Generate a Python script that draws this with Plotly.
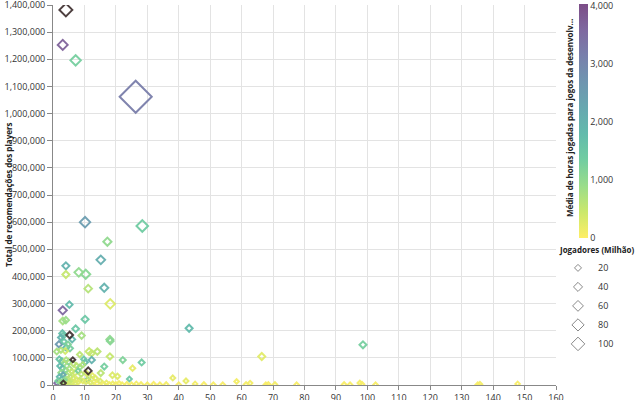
import numpy as np
import plotly.graph_objects as go

# ---------------- data ----------------
# x value (unlabelled axis), total recommendations, mean hours played, players (millions)
x_vals = [
    4.1, 3.1, 7.2, 26.3, 10.2, 28.4, 17.3, 15.2, 4.1, 4.1, 8.2, 10.4, 11.2, 16.3, 18.2,
    3.1, 5.2, 10.2, 3.1, 4.1, 7.2, 43.3, 66.4, 98.6, 5.3,
    3.0, 3.3, 2.5, 6.1, 1.9, 4.2, 5.4, 1.2, 3.5, 4.8, 9.1, 18.1, 18.2, 11.5, 12.3, 14.1,
    18.1, 22.2, 28.2, 12.3, 10.2, 6.3, 16.3, 15.2, 11.2, 18.9, 20.5, 25.3, 24.3, 38.1,
    42.3, 45.2, 58.4, 62.7, 3.9, 2.5, 8.5, 9.8,
    2.0, 2.8, 3.5, 4.2, 5.0, 6.5, 7.5, 8.5, 9.5, 2.2, 3.0, 4.0, 5.2, 6.0, 7.0, 8.0, 9.0,
    10.5, 11.5, 12.5, 13.5, 2.5, 3.2, 4.5, 5.5, 6.5, 7.5, 8.5, 9.5, 10.5, 2.0, 2.8, 3.6,
    4.4, 5.2, 6.0, 7.0, 8.0, 1.2, 3.3, 1.5, 2.4, 4.0, 5.0, 11.0, 12.0, 13.0, 14.0, 15.0,
    16.0, 17.0, 18.0, 19.0, 20.0, 21.0, 22.0, 23.5, 25.0, 26.5, 28.0, 30.0, 32.0, 34.0,
    36.0, 40.0, 48.0, 51.0, 54.0, 61.4, 67.7, 68.5, 70.6, 77.5, 92.6, 94.5, 97.6, 98.3,
    102.6, 135.1, 135.8, 147.8,
]
recommendations = [
    1382000, 1253000, 1196000, 1062000, 600000, 586000, 528000, 461000, 439000, 407000,
    415000, 408000, 355000, 358000, 299000, 275000, 296000, 242000, 236000, 239000,
    207000, 209000, 105000, 148000, 184000,
    190000, 182000, 175000, 168000, 150000, 138000, 135000, 123000, 160000, 150000,
    182000, 168000, 162000, 123000, 117000, 123000, 105000, 92000, 83000, 92000, 84000,
    93000, 68000, 44000, 52000, 36000, 32000, 62000, 22000, 26000, 15000, 4000, 13000,
    7000, 125000, 128000, 112000, 95000,
    95000, 88000, 80000, 92000, 85000, 78000, 70000, 65000, 75000, 70000, 62000, 55000,
    60000, 50000, 45000, 52000, 40000, 45000, 30000, 35000, 25000, 45000, 38000, 35000,
    30000, 25000, 20000, 18000, 15000, 12000, 30000, 22000, 18000, 15000, 12000, 8000,
    6000, 10000, 7000, 7000, 15000, 10000, 3000, 2000, 20000, 8000, 12000, 5000, 15000,
    3000, 8000, 2000, 5000, 2000, 6000, 1000, 3000, 1000, 4000, 2000, 1000, 3000, 1000,
    2000, 1000, 2000, 1000, 1000, 2000, 1000, 2000, 2000, 1000, 2000, 1000, 7000, 3000,
    1000, 1000, 3000, 4000,
]
mean_hours = [
    4500, 3700, 1300, 3200, 2500, 1400, 1000, 2100, 2000, 500, 1000, 1100, 650, 2000, 300,
    3600, 1800, 1500, 800, 900, 1500, 1800, 250, 1300, 4500,
    1700, 1600, 2000, 1900, 2600, 1800, 1300, 800, 1500, 1200, 800, 1000, 1100, 500, 500,
    600, 500, 1200, 1400, 2000, 1900, 4500, 1300, 600, 4500, 300, 300, 200, 1500, 200,
    200, 100, 100, 100, 400, 700, 600, 1500,
    1600, 1400, 900, 700, 1200, 600, 500, 900, 700, 1800, 1500, 1100, 800, 500, 400, 1300,
    600, 300, 400, 200, 300, 1000, 2200, 800, 600, 400, 300, 500, 200, 300, 1900, 1500,
    1100, 700, 500, 400, 300, 200, 3600, 4500, 1300, 900, 600, 400, 1800, 300, 200, 100,
    300, 100, 200, 100, 150, 100, 100, 100, 100, 50, 100, 100, 100, 50, 50, 100, 50, 50,
    50, 50, 100, 50, 50, 100, 50, 50, 50, 100, 50, 50, 50, 100, 50,
]
players_m = [
    90, 50, 55, 600, 55, 70, 30, 35, 20, 20, 35, 40, 25, 30, 45,
    30, 16, 20, 18, 15, 18, 20, 20, 20, 18,
    15, 12, 10, 12, 15, 12, 12, 10, 10, 8, 15, 20, 18, 20, 15, 15, 15, 12, 12, 15, 10, 5,
    12, 12, 20, 10, 8, 8, 5, 5, 5, 3, 3, 3, 10, 8, 8, 8,
    10, 12, 10, 8, 10, 8, 10, 8, 6, 8, 10, 8, 8, 6, 8, 6, 6, 6, 5, 5, 5, 6, 5, 6, 5, 5, 5,
    4, 4, 4, 5, 5, 4, 4, 4, 4, 3, 3, 6, 6, 4, 4, 3, 3, 6, 3, 3, 3, 3, 3, 3, 3, 3, 3, 3, 3,
    3, 3, 3, 3, 3, 3, 3, 3, 3, 3, 3, 3, 3, 3, 3, 3, 3, 3, 3, 4, 3, 3, 3, 4, 3,
]
size_legend_values = [20, 40, 60, 80, 100]
color_ticks = [0, 1000, 2000, 3000, 4000]
x_ticks = list(range(0, 161, 10))
y_ticks = list(range(0, 1400001, 100000))

# ---------------- styling helpers ----------------
viridis = ["#440154", "#482878", "#3e4989", "#31688e", "#26828e",
           "#1f9e89", "#35b779", "#6ece58", "#b5de2b", "#fde725"]


def blend(hexc, a=0.7):
    r, g, b = (int(hexc[i:i + 2], 16) for i in (1, 3, 5))
    f = lambda c: int(round(a * c + (1 - a) * 255))
    return f"rgb({f(r)},{f(g)},{f(b)})"


rev = viridis[::-1]
colorscale = [[i / (len(rev) - 1), blend(c)] for i, c in enumerate(rev)]
CMAX = 4040

PLOT_L, PLOT_R, PLOT_T, PLOT_B = 53, 556, 5, 385


def msize(p):
    return np.sqrt(9 + np.asarray(p, dtype=float))


def px_x(px):
    return (px - PLOT_L) / (PLOT_R - PLOT_L)


def px_y(py):
    return (PLOT_B - py) / (PLOT_B - PLOT_T)


xa = np.array(x_vals)
ya = np.array(recommendations)
ha = np.array(mean_hours)
pa = np.array(players_m)
inr = ha <= 4000
outr = ~inr

fig = go.Figure()
order = np.argsort(-pa[inr])
fig.add_trace(go.Scatter(
    x=xa[inr][order], y=ya[inr][order], mode="markers", showlegend=False,
    marker=dict(symbol="diamond-open", size=msize(pa[inr][order]),
                color=ha[inr][order], colorscale=colorscale, cmin=0, cmax=CMAX,
                line=dict(width=2), opacity=0.95,
                colorbar=dict(x=px_x(579), xanchor="left", xpad=0,
                              y=px_y(121), yanchor="middle", ypad=0,
                              len=234, lenmode="pixels", thickness=9,
                              outlinewidth=0, tickvals=color_ticks,
                              ticktext=[f"{v:,}" for v in color_ticks],
                              ticklabeloverflow="allow",
                              ticks="", tickfont=dict(size=9, color="#333")),
                showscale=True),
))
fig.add_trace(go.Scatter(
    x=xa[outr], y=ya[outr], mode="markers", showlegend=False,
    marker=dict(symbol="diamond-open", size=msize(pa[outr]), color="#3b2b2b",
                line=dict(width=2), opacity=0.9),
))
for v in size_legend_values:
    fig.add_trace(go.Scatter(
        x=[None], y=[None], mode="markers", name=str(v), showlegend=True,
        marker=dict(symbol="diamond-open", size=float(msize(v)), color="#888",
                    line=dict(width=1)),
    ))

fig.update_layout(
    width=640, height=400,
    margin=dict(l=PLOT_L, r=640 - PLOT_R, t=PLOT_T, b=400 - PLOT_B, autoexpand=False),
    paper_bgcolor="white", plot_bgcolor="white",
    font=dict(family="Open Sans, Noto Sans, sans-serif", size=10, color="#333"),
    xaxis=dict(range=[0, 160], tickvals=x_ticks, showgrid=True, gridcolor="#e3e3e3",
               showline=True, linecolor="#888", ticks="outside", ticklen=4,
               tickcolor="#888", zeroline=False, automargin=False,
               ticklabeloverflow="allow", tickfont=dict(size=9)),
    yaxis=dict(range=[0, 1400000], tickvals=y_ticks, tickformat=",", showgrid=True,
               gridcolor="#e3e3e3", showline=True, linecolor="#888", ticks="outside",
               ticklen=5, tickcolor="#888", zeroline=False, automargin=False,
               ticklabeloverflow="allow", tickfont=dict(size=9)),
    legend=dict(x=px_x(558), xanchor="left", y=px_y(243), yanchor="top",
                title=dict(text="<b>Jogadores (Milhão)</b>", font=dict(size=8, color="#222")),
                itemsizing="trace", font=dict(size=9), tracegroupgap=0,
                bgcolor="rgba(0,0,0,0)"),
    annotations=[
        dict(text="<b>Total de recomendações dos players</b>", textangle=-90,
             xref="paper", yref="paper", x=px_x(8), y=0.5, xanchor="center",
             yanchor="middle", showarrow=False, font=dict(size=8, color="#222")),
        dict(text="<b>Média de horas jogadas para jogos da desenvolv…</b>", textangle=-90,
             xref="paper", yref="paper", x=px_x(569), y=px_y(118), xanchor="center",
             yanchor="middle", showarrow=False, font=dict(size=8, color="#222")),
    ],
)

fig.write_html("out.html", config={"displayModeBar": False},
               post_script="document.body.style.margin='0px';")
